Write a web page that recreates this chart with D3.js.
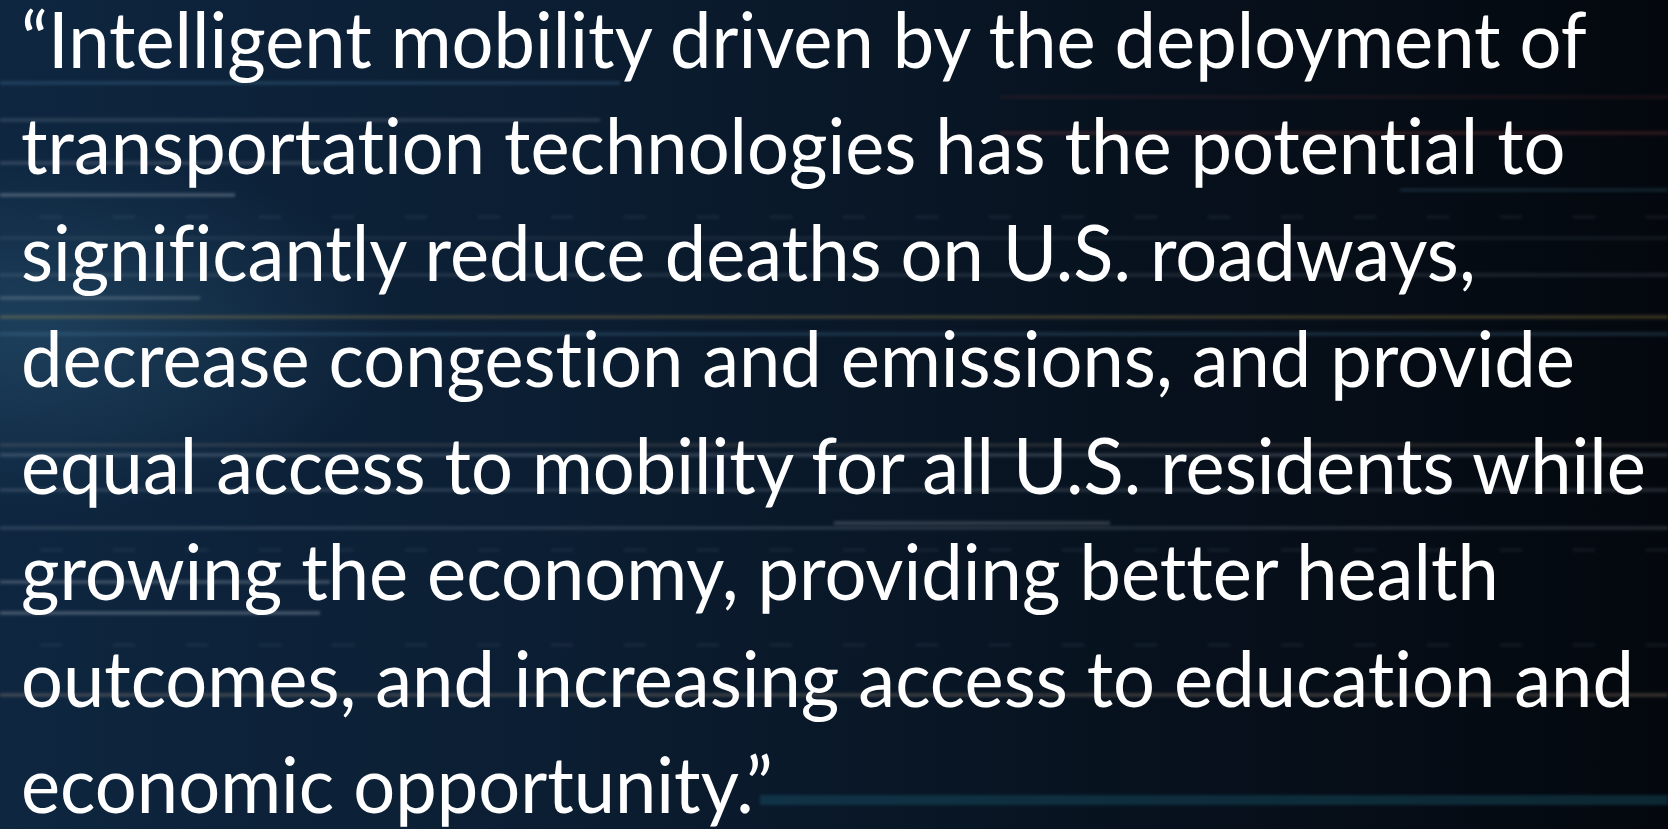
<!DOCTYPE html>
<html>
<head>
<meta charset="utf-8">
<script src="https://cdn.jsdelivr.net/npm/d3@7"></script>
<style>
  html, body { margin: 0; padding: 0; background: #050a12; overflow: hidden; }
  svg { display: block; }
</style>
</head>
<body>
<svg class="quote-card"></svg>
<script>
const width = 1668;
const height = 829;

// quote text, one entry per line
const quoteLines = [
  '\u201CIntelligent mobility driven by the deployment of',
  'transportation technologies has the potential to',
  'significantly reduce deaths on U.S. roadways,',
  'decrease congestion and emissions, and provide',
  'equal access to mobility for all U.S. residents while',
  'growing the economy, providing better health',
  'outcomes, and increasing access to education and',
  'economic opportunity.\u201D'
];

// background light streaks: row, start, end (in picture pixels)
const streakY    = [83, 97, 120, 133, 163, 190, 195, 238, 275, 298, 317, 334, 445, 455, 490, 523, 528, 582, 613, 695, 800];
const streakX0   = [0, 1000, 0, 1000, 0, 1400, 0, 0, 0, 0, 0, 0, 0, 0, 0, 834, 0, 0, 0, 0, 760];
const streakX1   = [620, 1668, 600, 1668, 330, 1668, 235, 1668, 1668, 200, 1668, 1668, 1668, 1668, 1668, 1110, 1668, 330, 320, 1668, 1668];
const streakTone = ['blue', 'red', 'grey', 'red', 'grey', 'blue', 'grey', 'grey', 'grey', 'grey', 'gold', 'blue', 'warm', 'grey', 'grey', 'grey', 'grey', 'grey', 'grey', 'warm', 'teal'];
const streakGlow = [0.3, 0.14, 0.22, 0.28, 0.25, 0.22, 0.4, 0.1, 0.16, 0.3, 0.35, 0.28, 0.18, 0.28, 0.22, 0.3, 0.22, 0.35, 0.4, 0.3, 0.35];

// rows of short dashes
const dashRows = [217, 550, 645];

const toneColor = {
  grey: '#aeb8c4', blue: '#4f8bb2', red: '#b0404a', gold: '#b8954a', warm: '#c8a88a', teal: '#1b6278'
};

const svg = d3.select('.quote-card')
  .attr('width', width)
  .attr('height', height);

const defs = svg.append('defs');

const bg = defs.append('linearGradient').attr('id', 'bg').attr('x1', 0).attr('x2', 1).attr('y1', 0).attr('y2', 0);
bg.append('stop').attr('offset', '0%').attr('stop-color', '#0e2640');
bg.append('stop').attr('offset', '35%').attr('stop-color', '#0b1d31');
bg.append('stop').attr('offset', '70%').attr('stop-color', '#07111d');
bg.append('stop').attr('offset', '100%').attr('stop-color', '#04080e');

const glow = defs.append('radialGradient').attr('id', 'glow').attr('cx', 0.02).attr('cy', 0.4).attr('r', 0.22);
glow.append('stop').attr('offset', '0%').attr('stop-color', '#3a6f8f').attr('stop-opacity', 0.35);
glow.append('stop').attr('offset', '100%').attr('stop-color', '#3a6f8f').attr('stop-opacity', 0);

defs.append('filter').attr('id', 'blur').attr('x', '-5%').attr('width', '110%').attr('y', '-200%').attr('height', '500%')
  .append('feGaussianBlur').attr('stdDeviation', 1.8);

svg.append('rect').attr('width', width).attr('height', height).attr('fill', 'url(#bg)');
svg.append('rect').attr('width', width).attr('height', height).attr('fill', 'url(#glow)');

const x = d3.scaleLinear().domain([0, 1668]).range([0, width]);
const y = d3.scaleLinear().domain([0, 829]).range([0, height]);

const streaks = streakY.map((v, i) => ({
  y: v, x0: streakX0[i], x1: streakX1[i], tone: streakTone[i], a: streakGlow[i]
}));

svg.append('g')
  .attr('filter', 'url(#blur)')
  .selectAll('line')
  .data(streaks)
  .join('line')
  .attr('x1', d => x(d.x0))
  .attr('x2', d => x(d.x1))
  .attr('y1', d => y(d.y))
  .attr('y2', d => y(d.y))
  .attr('stroke', d => toneColor[d.tone])
  .attr('stroke-opacity', d => d.a)
  .attr('stroke-width', d => d.tone === 'teal' ? 10 : 3);

// dash rows: evenly spaced short ticks across the picture
const dashX = d3.range(0, 23).map(i => 40 + i * 73);
svg.append('g')
  .attr('filter', 'url(#blur)')
  .selectAll('g')
  .data(dashRows)
  .join('g')
  .selectAll('line')
  .data(r => dashX.map(dx => ({ r, dx })))
  .join('line')
  .attr('x1', d => x(d.dx))
  .attr('x2', d => x(d.dx + 22))
  .attr('y1', d => y(d.r))
  .attr('y2', d => y(d.r))
  .attr('stroke', '#8aa2b6')
  .attr('stroke-opacity', 0.1)
  .attr('stroke-width', 3);

const lineY = d3.scaleLinear().domain([0, quoteLines.length - 1]).range([68, 813.5]);

// the quote face is a little condensed, so squeeze it horizontally
svg.append('g')
  .attr('transform', 'translate(21,0) scale(0.962,1)')
  .selectAll('text')
  .data(quoteLines)
  .join('text')
  .attr('x', 0)
  .attr('y', (d, i) => lineY(i))
  .attr('fill', '#ffffff')
  .style('font-family', 'Lato, "Open Sans", sans-serif')
  .style('font-size', '77px')
  .style('font-feature-settings', '"liga" 0')
  .text(d => d);
</script>
</body>
</html>
